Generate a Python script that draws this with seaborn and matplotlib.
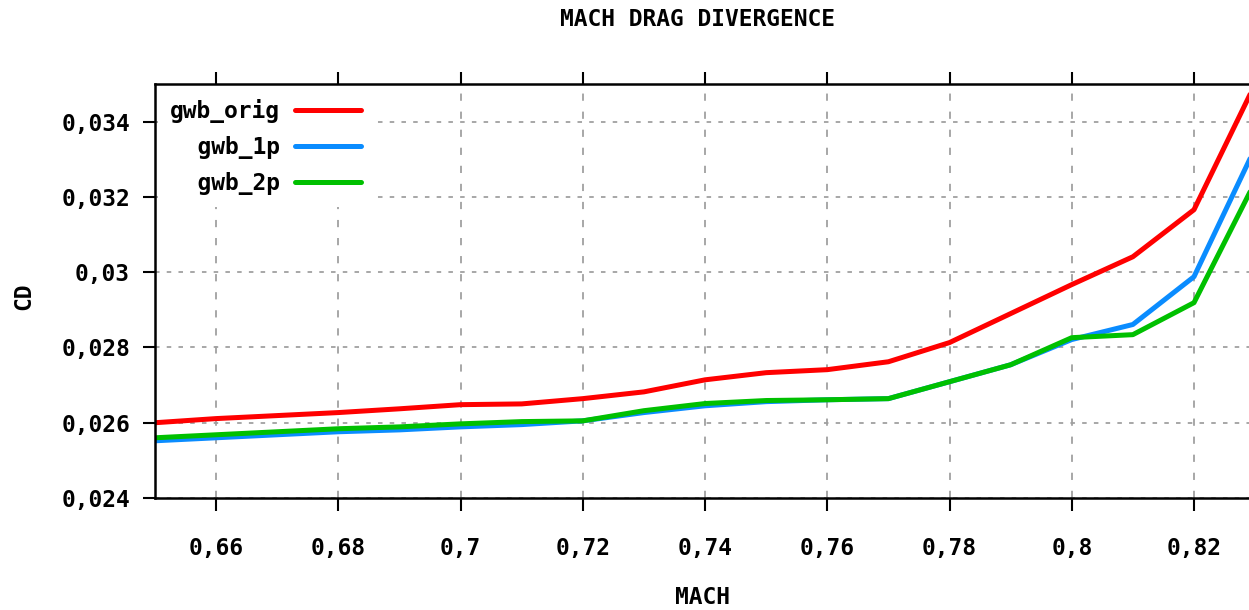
import numpy as np
import pandas as pd
import matplotlib
matplotlib.use("Agg")
import matplotlib.pyplot as plt
import seaborn as sns

# ---- data ----
mach = [0.65, 0.66, 0.67, 0.68, 0.69, 0.70, 0.71, 0.72, 0.73, 0.74,
        0.75, 0.76, 0.77, 0.78, 0.79, 0.80, 0.81, 0.82, 0.83]
cd_orig = [0.02600, 0.02611, 0.02619, 0.02627, 0.02637, 0.02648, 0.02650,
           0.02664, 0.02682, 0.02714, 0.02733, 0.02741, 0.02762, 0.02813,
           0.02890, 0.02967, 0.03041, 0.03166, 0.03500]
cd_1p = [0.02552, 0.02560, 0.02568, 0.02576, 0.02581, 0.02589, 0.02595,
         0.02605, 0.02627, 0.02645, 0.02656, 0.02661, 0.02664, 0.02709,
         0.02754, 0.02821, 0.02861, 0.02988, 0.03330]
cd_2p = [0.02560, 0.02568, 0.02576, 0.02584, 0.02589, 0.02597, 0.02603,
         0.02605, 0.02632, 0.02651, 0.02659, 0.02661, 0.02664, 0.02709,
         0.02754, 0.02826, 0.02834, 0.02919, 0.03240]
series_names = ["gwb_orig", "gwb_1p", "gwb_2p"]
series_colors = ["#ff0000", "#0a8cff", "#00c000"]

x_ticks = [0.66, 0.68, 0.70, 0.72, 0.74, 0.76, 0.78, 0.80, 0.82]
x_tick_labels = ["0,66", "0,68", "0,7", "0,72", "0,74", "0,76", "0,78", "0,8", "0,82"]
y_ticks = [0.024, 0.026, 0.028, 0.030, 0.032, 0.034]
y_tick_labels = ["0,024", "0,026", "0,028", "0,03", "0,032", "0,034"]

title_text = "MACH DRAG DIVERGENCE"
x_label = "MACH"
y_label = "CD"

df = pd.DataFrame({
    "Mach": mach * 3,
    "CD": cd_orig + cd_1p + cd_2p,
    "series": sum([[n] * len(mach) for n in series_names], []),
})

sns.set_theme(style="white")
plt.rcParams["font.family"] = ["DejaVu Sans Mono", "DejaVu Sans"]
plt.rcParams["font.weight"] = "bold"
plt.rcParams["text.color"] = "black"
plt.rcParams["xtick.color"] = "black"
plt.rcParams["ytick.color"] = "black"
plt.rcParams["xtick.labelcolor"] = "black"
plt.rcParams["ytick.labelcolor"] = "black"

FS = 16.5
fig = plt.figure(figsize=(12.49, 6.10), dpi=100)
ax = fig.add_axes([155 / 1249, 1 - 498 / 610, 1 - 155 / 1249, (498 - 84) / 610])

sns.lineplot(data=df, x="Mach", y="CD", hue="series", hue_order=series_names,
             palette=series_colors, linewidth=3.6, ax=ax, legend=True,
             estimator=None, sort=False)

ax.set_xlim(0.65, 0.829)
ax.set_ylim(0.024, 0.035)
ax.set_xticks(x_ticks)
ax.set_xticklabels(x_tick_labels, fontsize=FS, fontweight="bold", color="black")
ax.set_yticks(y_ticks)
ax.set_yticklabels(y_tick_labels, fontsize=FS, fontweight="bold", color="black")

ax.tick_params(axis="x", which="both", direction="out", length=9, width=1.5,
               color="black", pad=19, top=True, bottom=True, labeltop=False)
ax.tick_params(axis="y", which="both", direction="out", length=9, width=1.5,
               color="black", pad=9, left=True, right=False)

for side in ["left", "bottom", "top"]:
    ax.spines[side].set_visible(True)
    ax.spines[side].set_color("black")
    ax.spines[side].set_linewidth(1.8)
ax.spines["right"].set_visible(False)

ax.xaxis.grid(True, color="#a0a0a0", linestyle=(0, (4, 6)), linewidth=1.3)
ax.yaxis.grid(True, color="#a0a0a0", linestyle=(0, (2.5, 4)), linewidth=1.3)
ax.set_axisbelow(True)

ax.set_xlabel("")
ax.set_ylabel("")
fig.text(697 / 1249, 1 - 20 / 610, title_text, ha="center", va="center",
         fontsize=FS, fontweight="bold", color="black")
fig.text(703 / 1249, 1 - 597 / 610, x_label, ha="center", va="center",
         fontsize=FS, fontweight="bold", color="black")
fig.text(24 / 1249, 1 - 296 / 610, y_label, ha="center", va="center",
         rotation=90, fontsize=FS, fontweight="bold", color="black")

# legend: text right-aligned, line sample after text
handles, labels = ax.get_legend_handles_labels()
width = max(len(l) for l in labels)
labels = [l.rjust(width) for l in labels]
leg = ax.legend(handles, labels, loc="upper left", markerfirst=False,
                frameon=True, fancybox=False, framealpha=1.0,
                facecolor="white", edgecolor="none",
                prop={"family": "DejaVu Sans Mono", "weight": "bold", "size": FS},
                handlelength=2.85, handletextpad=0.65, labelspacing=0.55,
                borderaxespad=0.12, borderpad=0.55)
for line in leg.get_lines():
    line.set_linewidth(3.6)
for t in leg.get_texts():
    t.set_color("black")

fig.savefig("out.png", dpi=100)
